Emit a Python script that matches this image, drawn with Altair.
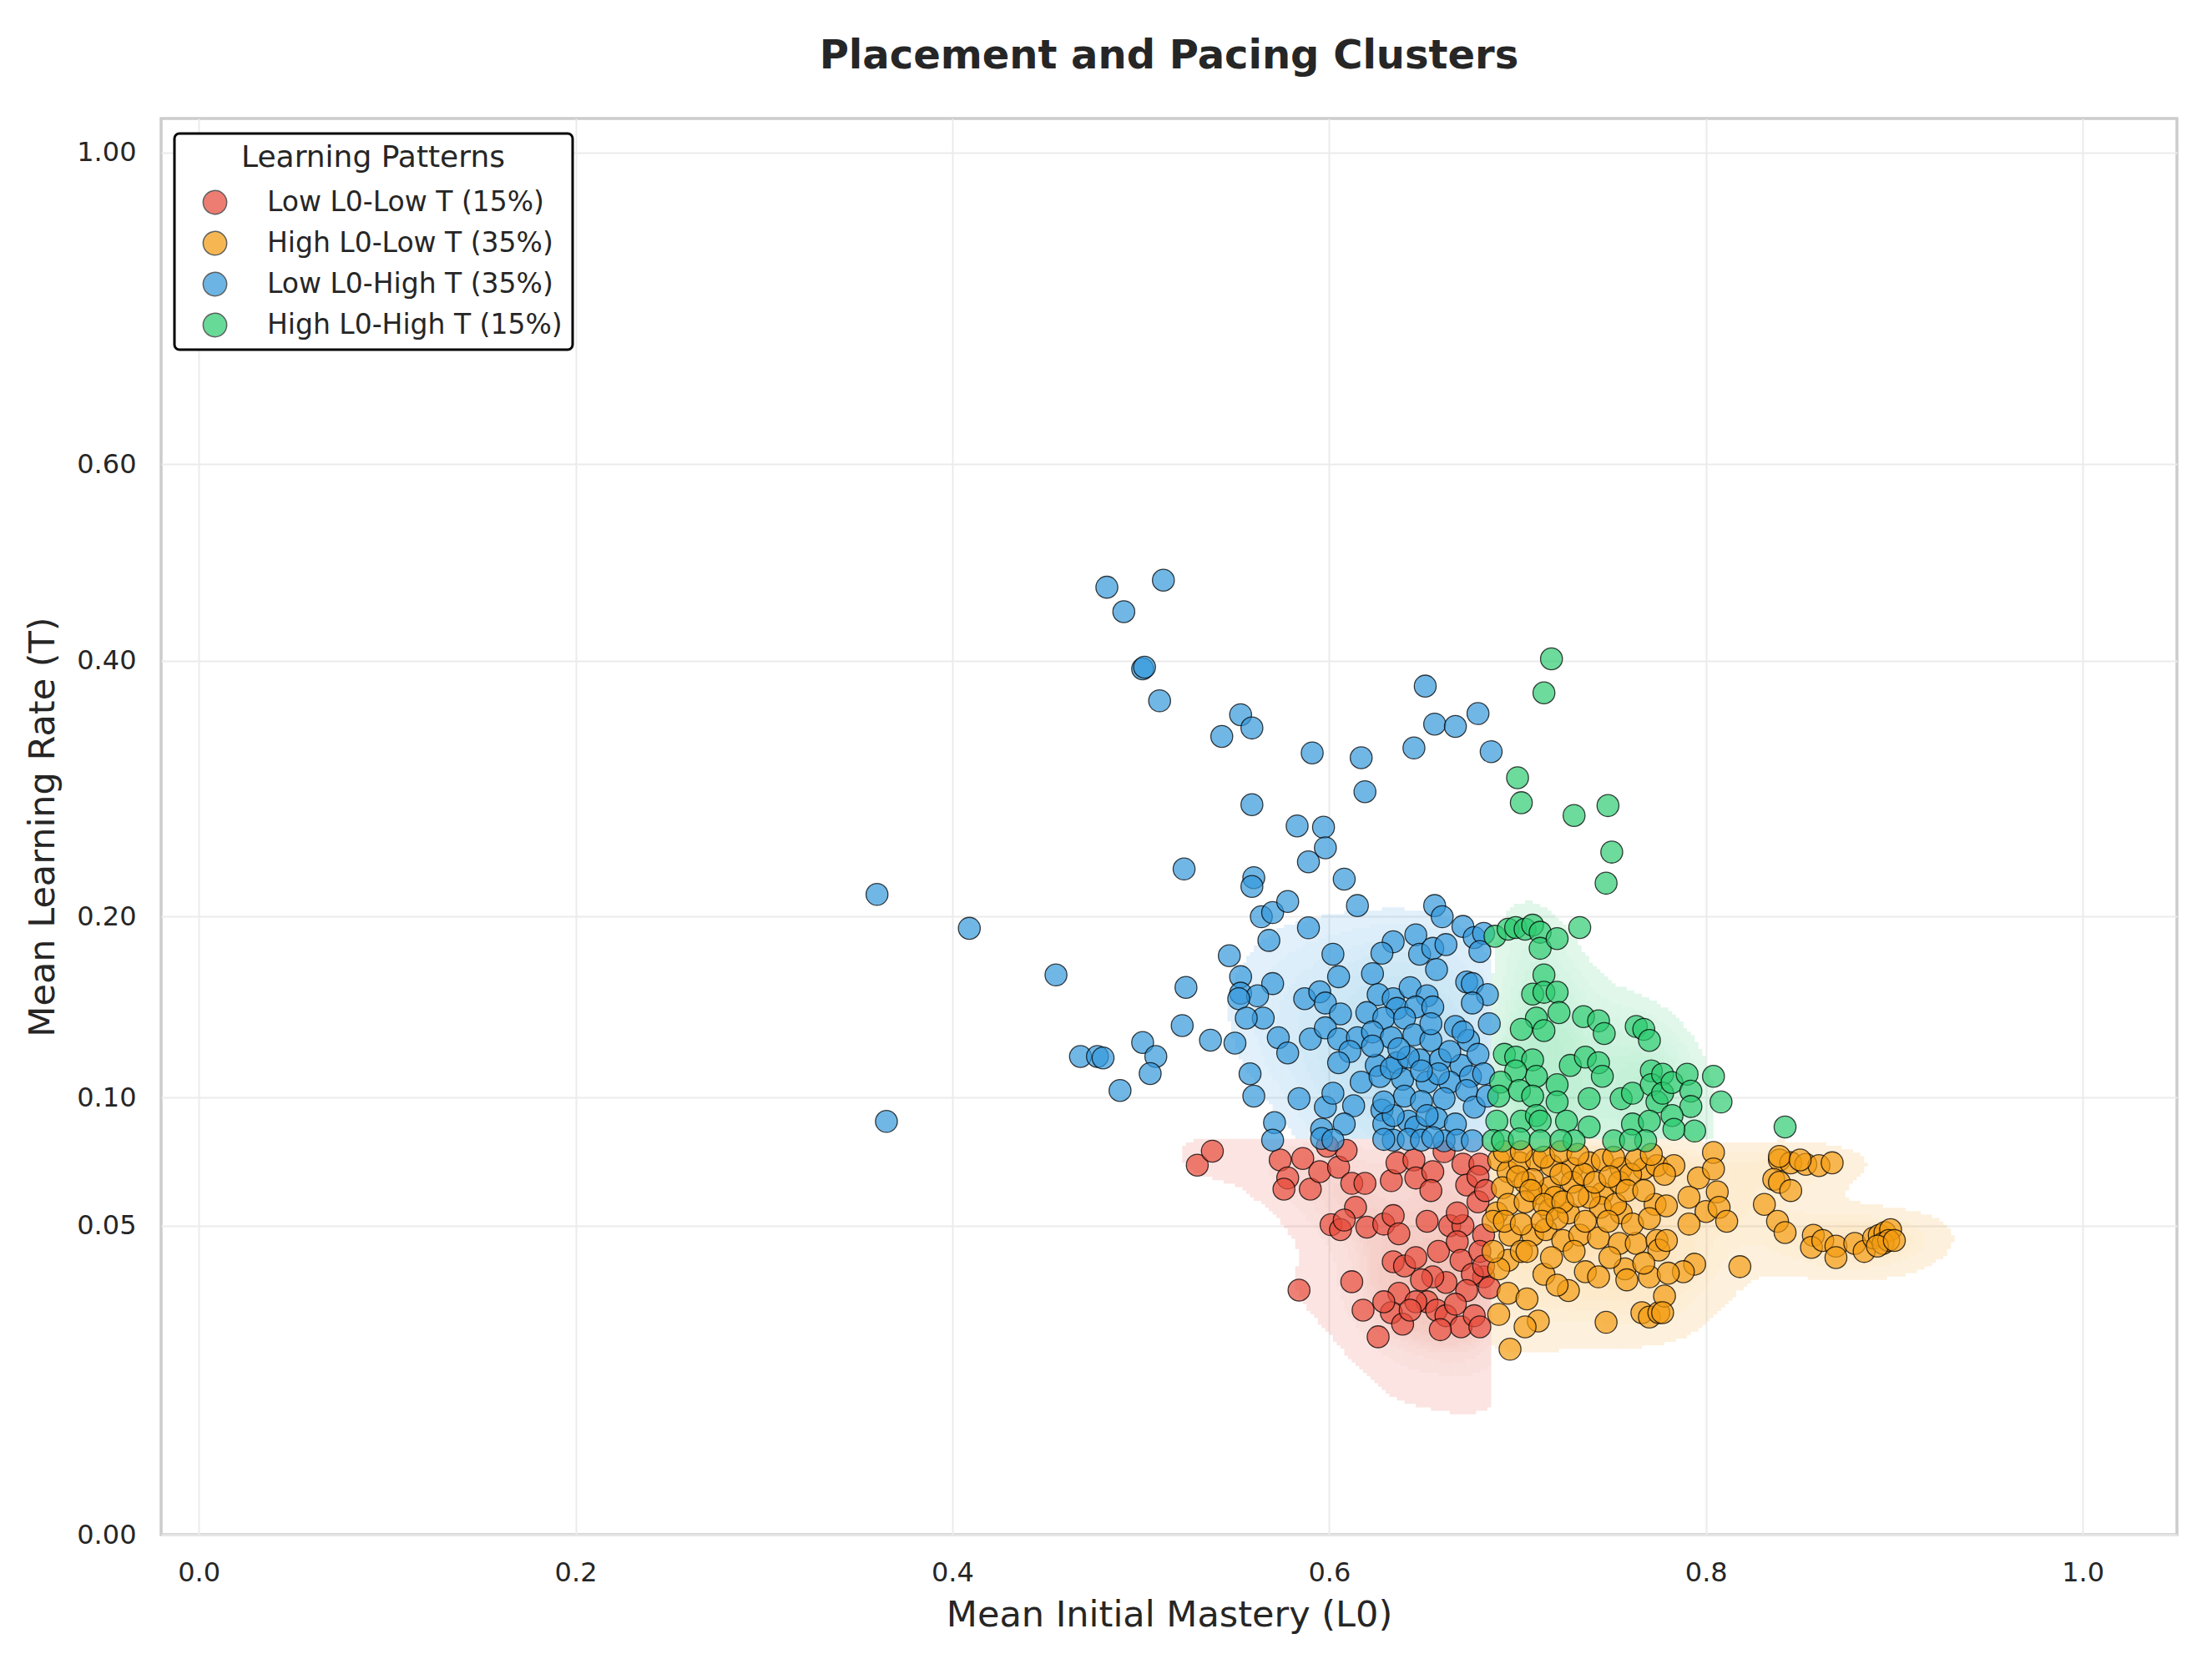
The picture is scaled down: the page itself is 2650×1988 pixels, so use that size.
import numpy as np
import pandas as pd
import altair as alt

# ---------------- data ----------------
CATEGORIES = ["Low L0-Low T (15%)", "High L0-Low T (35%)",
              "Low L0-High T (35%)", "High L0-High T (15%)"]
COLORS = ["#e74c3c", "#f39c12", "#3498db", "#2ecc71"]

red_L0 = [0.574, 0.586, 0.578, 0.576, 0.590, 0.595, 0.605, 0.609, 0.599, 0.612,
          0.619, 0.633, 0.636, 0.645, 0.646, 0.655, 0.654, 0.661, 0.671, 0.680,
          0.673, 0.679, 0.614, 0.620, 0.601, 0.606, 0.608, 0.629, 0.634, 0.637,
          0.652, 0.664, 0.671, 0.682, 0.634, 0.640, 0.646, 0.658, 0.668, 0.670,
          0.680, 0.682, 0.676, 0.662, 0.655, 0.652, 0.657, 0.662, 0.670, 0.677,
          0.680, 0.659, 0.637, 0.633, 0.639, 0.646, 0.626, 0.618, 0.612, 0.584,
          0.682, 0.673, 0.685, 0.649, 0.668, 0.679, 0.683, 0.629, 0.643, 0.667,
          0.530, 0.538]
red_T = [0.0735, 0.0741, 0.0666, 0.0625, 0.0625, 0.0690, 0.0707, 0.0773, 0.0790, 0.0646,
         0.0646, 0.0656, 0.0724, 0.0735, 0.0666, 0.0690, 0.0620, 0.0768, 0.0719, 0.0719,
         0.0640, 0.0580, 0.0561, 0.0495, 0.0503, 0.0487, 0.0518, 0.0505, 0.0533, 0.0474,
         0.0514, 0.0500, 0.0500, 0.0470, 0.0390, 0.0378, 0.0402, 0.0420, 0.0449, 0.0394,
         0.0420, 0.0348, 0.0355, 0.0333, 0.0348, 0.0284, 0.0264, 0.0251, 0.0226, 0.0251,
         0.0226, 0.0220, 0.0305, 0.0258, 0.0232, 0.0284, 0.0205, 0.0264, 0.0335, 0.0313,
         0.0378, 0.0312, 0.0319, 0.0340, 0.0542, 0.0671, 0.0620, 0.0284, 0.0264, 0.0278,
         0.0715, 0.0770]

orange_L0 = [0.690, 0.695, 0.701, 0.710, 0.718, 0.729, 0.738, 0.745, 0.755, 0.767,
             0.774, 0.692, 0.704, 0.711, 0.717, 0.729, 0.745, 0.754, 0.689, 0.695,
             0.704, 0.717, 0.727, 0.744, 0.755, 0.773, 0.696, 0.708, 0.715, 0.724,
             0.733, 0.743, 0.754, 0.763, 0.774, 0.695, 0.690, 0.714, 0.727, 0.736,
             0.743, 0.757, 0.758, 0.770, 0.721, 0.695, 0.705, 0.690, 0.711, 0.704,
             0.696, 0.747, 0.766, 0.770, 0.775, 0.775, 0.708, 0.723, 0.735, 0.760,
             0.738, 0.687, 0.687, 0.702, 0.720, 0.752,
             0.693, 0.702, 0.714, 0.723, 0.732, 0.751, 0.763, 0.771, 0.700, 0.707,
             0.714, 0.724, 0.732, 0.741, 0.749, 0.758, 0.767, 0.693, 0.702, 0.713,
             0.721, 0.736, 0.748, 0.761, 0.770, 0.730, 0.749, 0.767, 0.705, 0.718,
             0.804, 0.783, 0.778, 0.796, 0.804, 0.806, 0.791, 0.779, 0.800, 0.807,
             0.811, 0.791, 0.779, 0.794, 0.788, 0.780, 0.778, 0.777, 0.818, 0.839,
             0.845, 0.853, 0.860, 0.867, 0.836, 0.839, 0.845, 0.831, 0.838, 0.842,
             0.857, 0.856, 0.862, 0.869, 0.869, 0.879, 0.884, 0.889, 0.892, 0.895,
             0.898, 0.894, 0.897, 0.891, 0.900, 0.839, 0.850]
orange_T = [0.0735, 0.0690, 0.0724, 0.0735, 0.0713, 0.0702, 0.0724, 0.0735, 0.0702, 0.0702,
            0.0713, 0.0630, 0.0650, 0.0610, 0.0630, 0.0650, 0.0610, 0.0650, 0.0542, 0.0571,
            0.0580, 0.0552, 0.0542, 0.0561, 0.0542, 0.0571, 0.0470, 0.0470, 0.0487, 0.0453,
            0.0470, 0.0461, 0.0444, 0.0444, 0.0453, 0.0394, 0.0370, 0.0355, 0.0312, 0.0362,
            0.0348, 0.0370, 0.0340, 0.0348, 0.0326, 0.0305, 0.0291, 0.0254, 0.0239, 0.0226,
            0.0180, 0.0236, 0.0258, 0.0248, 0.0258, 0.0424, 0.0660, 0.0680, 0.0680, 0.0680,
            0.0596, 0.0514, 0.0420, 0.0420, 0.0596, 0.0571,
            0.0768, 0.0768, 0.0746, 0.0768, 0.0757, 0.0746, 0.0735, 0.0757, 0.0671, 0.0620,
            0.0571, 0.0580, 0.0600, 0.0650, 0.0671, 0.0620, 0.0620, 0.0514, 0.0505, 0.0514,
            0.0523, 0.0514, 0.0514, 0.0505, 0.0523, 0.0420, 0.0402, 0.0386, 0.0420, 0.0402,
            0.0765, 0.0713, 0.0680, 0.0666, 0.0700, 0.0615, 0.0596, 0.0566, 0.0547, 0.0561,
            0.0514, 0.0505, 0.0453, 0.0383, 0.0362, 0.0358, 0.0298, 0.0258, 0.0376, 0.0735,
            0.0724, 0.0718, 0.0713, 0.0724, 0.0661, 0.0650, 0.0620, 0.0571, 0.0514, 0.0478,
            0.0469, 0.0432, 0.0453, 0.0436, 0.0402, 0.0444, 0.0420, 0.0461, 0.0469, 0.0478,
            0.0487, 0.0444, 0.0453, 0.0436, 0.0453, 0.0749, 0.0735]

blue_L0 = [0.482, 0.491, 0.512, 0.501, 0.502, 0.510, 0.553, 0.543, 0.559, 0.651,
           0.656, 0.667, 0.679, 0.645, 0.686, 0.591, 0.617, 0.619, 0.559, 0.583,
           0.597, 0.598, 0.589, 0.523, 0.560, 0.559, 0.608, 0.360,
           0.409, 0.455, 0.365, 0.468, 0.477, 0.480, 0.489, 0.501, 0.508, 0.505,
           0.522, 0.524, 0.537,
           0.564, 0.570, 0.578, 0.615, 0.656, 0.660, 0.589, 0.568, 0.547, 0.602,
           0.671, 0.677, 0.682, 0.680, 0.634, 0.628, 0.646, 0.648, 0.655, 0.662,
           0.657, 0.623, 0.605, 0.553, 0.570, 0.553, 0.562, 0.552, 0.565, 0.556,
           0.587, 0.595, 0.598, 0.606, 0.550, 0.573, 0.578, 0.590, 0.598, 0.605,
           0.673, 0.676, 0.684, 0.676, 0.685, 0.626, 0.634, 0.643, 0.652, 0.636,
           0.646, 0.655, 0.620, 0.629, 0.640, 0.615, 0.623, 0.633, 0.645, 0.654,
           0.667, 0.674, 0.671, 0.611, 0.605, 0.625, 0.636, 0.648, 0.659, 0.670,
           0.679, 0.617, 0.627, 0.639, 0.652, 0.664, 0.675, 0.682, 0.558, 0.560,
           0.584, 0.598, 0.602, 0.613, 0.628, 0.640, 0.649, 0.661, 0.673, 0.677,
           0.684, 0.571, 0.596, 0.608, 0.642, 0.657, 0.667, 0.629, 0.634, 0.646,
           0.633, 0.642, 0.658, 0.649, 0.623, 0.664, 0.637, 0.654, 0.629, 0.652,
           0.570, 0.596, 0.602, 0.634, 0.642, 0.649, 0.661, 0.668, 0.676, 0.629,
           0.655]
blue_T = [0.470, 0.446, 0.477, 0.3925, 0.394, 0.364, 0.352, 0.3336, 0.3407, 0.377,
          0.344, 0.342, 0.353, 0.324, 0.321, 0.320, 0.316, 0.289, 0.279, 0.263,
          0.262, 0.247, 0.237, 0.232, 0.226, 0.220, 0.225, 0.2146,
          0.1925, 0.164, 0.0894, 0.1197, 0.1197, 0.119, 0.1033, 0.1268, 0.1197, 0.1113,
          0.1357, 0.1568, 0.128,
          0.1999, 0.2026, 0.2099, 0.2072, 0.2072, 0.1999, 0.1928, 0.1849, 0.1755, 0.1764,
          0.1937, 0.1867, 0.1893, 0.178, 0.184, 0.177, 0.1884, 0.1764, 0.180, 0.1823,
          0.1672, 0.1648, 0.163, 0.163, 0.159, 0.1535, 0.152, 0.1504, 0.1397, 0.1397,
          0.1504, 0.1543, 0.148, 0.142, 0.1265, 0.1293, 0.1215, 0.1286, 0.1345, 0.1286,
          0.1599, 0.159, 0.1527, 0.148, 0.1367, 0.1527, 0.1504, 0.1567, 0.152, 0.145,
          0.1458, 0.1458, 0.1427, 0.1397, 0.1397, 0.1293, 0.1323, 0.1293, 0.1308, 0.1279,
          0.1352, 0.1279, 0.1323, 0.1222, 0.1166, 0.1153, 0.1166, 0.118, 0.118, 0.1153,
          0.1208, 0.1072, 0.1099, 0.1086, 0.1072, 0.1072, 0.1099, 0.1112, 0.1112, 0.1007,
          0.0995, 0.0957, 0.102, 0.0963, 0.0944, 0.1007, 0.0982, 0.0995, 0.1033, 0.0957,
          0.1007, 0.0889, 0.086, 0.0883, 0.0895, 0.0907, 0.0883, 0.0883, 0.092, 0.087,
          0.1139, 0.1194, 0.1112, 0.1126, 0.125, 0.1222, 0.1236, 0.1367, 0.098, 0.092,
          0.0815, 0.0822, 0.0815, 0.0815, 0.0818, 0.0815, 0.0812, 0.0815, 0.0812, 0.0818,
          0.0825]

green_L0 = [0.718, 0.714, 0.700, 0.702, 0.730, 0.748, 0.750, 0.747,
            0.688, 0.695, 0.699, 0.704, 0.708, 0.712, 0.712, 0.721, 0.733, 0.714,
            0.708, 0.714, 0.721, 0.722, 0.710, 0.702, 0.714, 0.735, 0.743, 0.746,
            0.763, 0.767, 0.770, 0.693, 0.699, 0.708, 0.710, 0.699, 0.691, 0.690,
            0.701, 0.708, 0.721, 0.721, 0.728, 0.736, 0.743, 0.745, 0.738, 0.755,
            0.761, 0.771, 0.771, 0.774, 0.689, 0.702, 0.710, 0.712, 0.726, 0.738,
            0.761, 0.770,
            0.777, 0.777, 0.782, 0.790, 0.792, 0.804, 0.808, 0.792, 0.782, 0.794,
            0.783, 0.842,
            0.687, 0.692, 0.701, 0.712, 0.730, 0.751, 0.768, 0.723, 0.760]
green_T = [0.4016, 0.371, 0.300, 0.2805, 0.2708, 0.2783, 0.2439, 0.2222,
           0.1875, 0.1919, 0.193, 0.1919, 0.1945, 0.190, 0.180, 0.186, 0.193, 0.164,
           0.153, 0.154, 0.154, 0.1427, 0.1397, 0.1337, 0.133, 0.1405, 0.1382, 0.1315,
           0.1352, 0.1337, 0.1279, 0.1208, 0.1194, 0.118, 0.110, 0.1126, 0.1072, 0.1007,
           0.1033, 0.1007, 0.106, 0.098, 0.1153, 0.1194, 0.1166, 0.110, 0.0995, 0.0995,
           0.102, 0.1126, 0.106, 0.098, 0.0895, 0.0895, 0.092, 0.0895, 0.0895, 0.087,
           0.0883, 0.0895,
           0.111, 0.102, 0.107, 0.111, 0.103, 0.110, 0.098, 0.096, 0.092, 0.0853,
           0.086, 0.087,
           0.0813, 0.0812, 0.082, 0.0812, 0.0812, 0.0812, 0.0812, 0.0813, 0.0815]

X_TICKS = [0.0, 0.2, 0.4, 0.6, 0.8, 1.0]
Y_TICKS = [0.0, 0.05, 0.10, 0.20, 0.40, 0.60, 1.00]
L0_SPLIT = 0.686   # cluster boundary on L0
T_SPLIT = 0.082    # cluster boundary on T

series = [(red_L0, red_T), (orange_L0, orange_T), (blue_L0, blue_T), (green_L0, green_T)]
clips = [((0.30, L0_SPLIT), (0.0, T_SPLIT)),
         ((L0_SPLIT, 1.04), (0.0, T_SPLIT)),
         ((0.30, L0_SPLIT), (T_SPLIT, 0.70)),
         ((L0_SPLIT, 1.04), (T_SPLIT, 0.70))]
# lowest iso-proportion level drawn for each cluster's density
THRESH = [0.035, 0.05, 0.42, 0.27]

# ---------------- points table ----------------
rows = []
for cat, (xs, ys) in zip(CATEGORIES, series):
    for a, b in zip(xs, ys):
        rows.append({"L0": a, "T": b, "cluster": cat})
pts_df = pd.DataFrame(rows)


# ---------------- 2D Gaussian KDE (Scott bandwidth), clipped per cluster ----------------
def kde_rects(xs, ys, clip, color, thresh, nlev=10):
    xs = np.asarray(xs, float)
    ys = np.asarray(ys, float)
    n = len(xs)
    cov = np.cov(np.vstack([xs, ys])) * n ** (-1.0 / 3.0)
    inv = np.linalg.inv(cov)
    (x0, x1), (y0, y1) = clip
    nx = int(round((x1 - x0) / 0.002))
    s0, s1 = np.sqrt(y0), np.sqrt(y1)
    ns = int(round((s1 - s0) / 0.0025))
    xe = np.linspace(x0, x1, nx + 1)
    se = np.linspace(s0, s1, ns + 1)
    xc = 0.5 * (xe[:-1] + xe[1:])
    sc = 0.5 * (se[:-1] + se[1:])
    GX, GS = np.meshgrid(xc, sc, indexing="ij")
    GY = GS ** 2
    dens = np.zeros_like(GX)
    for a, b in zip(xs, ys):
        dx = GX - a
        dy = GY - b
        q = inv[0, 0] * dx * dx + 2 * inv[0, 1] * dx * dy + inv[1, 1] * dy * dy
        dens += np.exp(-0.5 * q)
    w = dens * 2 * GS
    flat_d = dens.ravel()
    flat_w = w.ravel()
    order = np.argsort(flat_d)[::-1]
    cum = np.cumsum(flat_w[order]) / flat_w.sum()
    qs = np.linspace(thresh, 1.0, nlev)[:-1]
    out = []
    for k, qv in enumerate(qs):
        idx = min(np.searchsorted(cum, 1 - qv), len(order) - 1)
        level = flat_d[order[idx]]
        mask = dens >= level
        op = 0.15 if k == 0 else 0.025
        for i in range(nx):
            col = np.flatnonzero(mask[i])
            if col.size == 0:
                continue
            br = np.flatnonzero(np.diff(col) > 1)
            starts = np.concatenate([[col[0]], col[br + 1]])
            ends = np.concatenate([col[br], [col[-1]]])
            for j0, j1 in zip(starts, ends):
                out.append({"x": xe[i], "x2": xe[i + 1],
                            "y": se[j0] ** 2, "y2": se[j1 + 1] ** 2,
                            "fill": color, "op": op})
    return out


kde_rows = []
for (xs, ys), clip, col, th in zip(series, clips, COLORS, THRESH):
    kde_rows += kde_rects(xs, ys, clip, col, th)
kde_df = pd.DataFrame(kde_rows)

# ---------------- chart ----------------
FONT = "DejaVu Sans"
TXT = "#262626"
xscale = alt.Scale(domain=[-0.02, 1.05], nice=False, zero=False)
yscale = alt.Scale(type="sqrt", domain=[0, 1.05], nice=False, zero=False)
xaxis = alt.Axis(values=X_TICKS, format=".1f", labelPadding=30, titlePadding=14,
                 labelFlush=False, labelOverlap=False)
yaxis = alt.Axis(values=Y_TICKS, format=".2f", labelPadding=30, titlePadding=18,
                 labelFlush=False, labelOverlap=False)
XT = "Mean Initial Mastery (L0)"
YT = "Mean Learning Rate (T)"

kde = alt.Chart(kde_df).mark_rect(strokeWidth=0).encode(
    x=alt.X("x:Q", scale=xscale, axis=xaxis, title=XT),
    x2="x2:Q",
    y=alt.Y("y:Q", scale=yscale, axis=yaxis, title=YT),
    y2="y2:Q",
    color=alt.Color("fill:N", scale=None),
    opacity=alt.Opacity("op:Q", scale=None),
)

pts = alt.Chart(pts_df).mark_circle(
    size=690, stroke="black", strokeWidth=1.3, fillOpacity=0.7, strokeOpacity=0.75
).encode(
    x=alt.X("L0:Q", scale=xscale, axis=xaxis, title=XT),
    y=alt.Y("T:Q", scale=yscale, axis=yaxis, title=YT),
    color=alt.Color(
        "cluster:N",
        scale=alt.Scale(domain=CATEGORIES, range=COLORS),
        legend=alt.Legend(
            title="Learning Patterns", orient="none", legendX=16, legendY=18,
            titleFontSize=36, labelFontSize=33, titleFont=FONT, labelFont=FONT,
            titleFontWeight="normal", titleColor=TXT, labelColor=TXT,
            titleAnchor="middle", titleAlign="center", titlePadding=18,
            titleLimit=900,
            symbolType="circle", symbolSize=800, symbolOpacity=0.72,
            symbolStrokeColor="#222222", symbolStrokeWidth=1.5,
            padding=12, rowPadding=14, labelOffset=46, symbolOffset=20,
            labelLimit=900, strokeColor="#000000", fillColor="#ffffff",
            cornerRadius=6,
        ),
    ),
)

chart = alt.layer(kde, pts).properties(
    width=2415, height=1697,
    title=alt.TitleParams("Placement and Pacing Clusters", fontSize=48, font=FONT,
                          fontWeight="bold", color=TXT, anchor="middle",
                          frame="group", offset=50),
    padding={"left": 185, "top": 134, "right": 30, "bottom": 130},
    autosize=alt.AutoSizeParams(type="none"),
).configure_view(
    stroke="#cccccc", strokeWidth=3.5
).configure_axis(
    grid=True, gridColor="#ebebeb", gridWidth=2, domain=False, ticks=False, tickSize=0,
    labelFont=FONT, labelFontSize=32, labelColor=TXT,
    titleFont=FONT, titleFontSize=43, titleFontWeight="normal", titleColor=TXT,
).configure_legend(
    strokeWidth=3
)

chart.save("out.html", embed_options={"renderer": "svg", "actions": False})
